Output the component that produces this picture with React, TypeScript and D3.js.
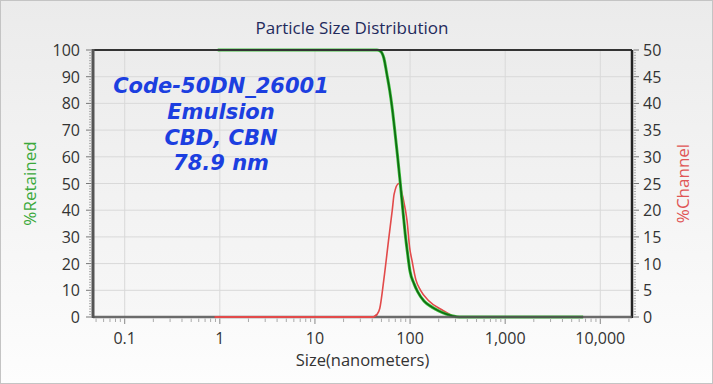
import React from 'react';
import * as d3 from 'd3';

const W = 713;
const H = 384;
const margin = { left: 93, right: 81, top: 50, bottom: 67 };

// %Retained (cumulative), size in nm
const retainedSize = [0.95, 45, 49, 53, 57, 61, 65, 69, 74, 79, 84, 89, 94, 100, 110, 120, 140, 170, 200, 240, 280, 330, 6600];
const retainedPct = [100, 100, 99.5, 97, 91, 85, 78, 70, 60, 50, 40, 31, 24, 17, 12.5, 9.5, 6, 3.7, 2.3, 1.1, 0.4, 0, 0];

// %Channel, size in nm
const channelSize = [0.88, 41, 45, 48, 53, 60, 65, 68, 76, 85, 93, 99, 105, 115, 129, 156, 218, 277, 340, 6600];
const channelPct = [0, 0, 0.5, 1.6, 7, 15, 20, 23, 25, 22, 18, 13, 10.5, 7, 5, 3.1, 1.3, 0.3, 0, 0];

const xTicks = [0.1, 1, 10, 100, 1000, 10000];
const xTickLabels = ['0.1', '1', '10', '100', '1,000', '10,000'];
const leftTicks = [0, 10, 20, 30, 40, 50, 60, 70, 80, 90, 100];
const rightTicks = [0, 5, 10, 15, 20, 25, 30, 35, 40, 45, 50];
const noteLines = ['Code-50DN_26001', 'Emulsion', 'CBD, CBN', '78.9 nm'];

const font = '"Open Sans", "DejaVu Sans", sans-serif';
const noteFont = '"DejaVu Sans", sans-serif';

export default function App() {
  const x0 = margin.left;
  const x1 = W - margin.right;
  const y0 = H - margin.bottom;
  const y1 = margin.top;

  const x = d3.scaleLog().domain([Math.pow(10, -4 / 3), Math.pow(10, 13 / 3)]).range([x0, x1]);
  const yL = d3.scaleLinear().domain([0, 100]).range([y0, y1]);
  const yR = d3.scaleLinear().domain([0, 50]).range([y0, y1]);

  const retainedLine = d3.line<number>()
    .x((d, i) => x(retainedSize[i]))
    .y((d) => yL(d))
    .curve(d3.curveMonotoneX);
  const channelLine = d3.line<number>()
    .x((d, i) => x(channelSize[i]))
    .y((d) => yR(d))
    .curve(d3.curveMonotoneX);

  const minorX: number[] = [];
  for (let e = -2; e <= 4; e++) {
    for (let m = 2; m <= 9; m++) {
      const v = m * Math.pow(10, e);
      if (v > x.domain()[0] && v < x.domain()[1]) minorX.push(v);
    }
  }
  const minorL = d3.range(0, 101, 1);
  const minorR = d3.range(0, 50.01, 0.5);

  return (
    <svg width={W} height={H} style={{ position: 'absolute', left: 0, top: 0, display: 'block' }}>
      <defs>
        <linearGradient id="bg" x1="0" y1="0" x2="0" y2="1">
          <stop offset="0" stopColor="#ebebeb" />
          <stop offset="1" stopColor="#fdfdfd" />
        </linearGradient>
        <linearGradient id="plotbg" x1="0" y1="0" x2="0" y2="1">
          <stop offset="0" stopColor="#ececec" />
          <stop offset="1" stopColor="#f7f7f7" />
        </linearGradient>
      </defs>
      <rect x={0.5} y={0.5} width={W - 1} height={H - 1} fill="url(#bg)" stroke="#c4c4c4" />
      <rect x={x0} y={y1} width={x1 - x0} height={y0 - y1} fill="url(#plotbg)" />

      {/* grid */}
      {leftTicks.map((t) => (
        <line key={'gh' + t} x1={x0} x2={x1} y1={yL(t)} y2={yL(t)} stroke="#d9d9d9" strokeWidth={1} />
      ))}
      {xTicks.map((t) => (
        <line key={'gv' + t} x1={x(t)} x2={x(t)} y1={y1} y2={y0} stroke="#d9d9d9" strokeWidth={1} />
      ))}

      <text x={352} y={34} textAnchor="middle" fontFamily={font} fontSize={17} fill="#1f2a5c">
        Particle Size Distribution
      </text>

      {/* annotation */}
      {noteLines.map((s, i) => (
        <text key={s} x={221} y={93 + i * 25.8} textAnchor="middle" fontFamily={noteFont} fontSize={21}
              fontWeight="bold" fontStyle="italic" fill="#1c3fe0">
          {s}
        </text>
      ))}

      {/* series */}
      <path d={channelLine(channelPct) || ''} fill="none" stroke="#e24a4a" strokeWidth={1.6} strokeLinejoin="round" />
      <path d={retainedLine(retainedPct) || ''} fill="none" stroke="#3cbf3c" strokeWidth={3} strokeLinejoin="round" />
      <path d={retainedLine(retainedPct) || ''} fill="none" stroke="#0f6a12" strokeWidth={1.6} strokeLinejoin="round" />

      {/* frame */}
      <line x1={x0} x2={x1} y1={y1} y2={y1} stroke="#333" strokeWidth={2} />
      <line x1={x1} x2={x1} y1={y1} y2={y0 + 1} stroke="#222" strokeWidth={2.5} />
      <line x1={x0} x2={x0} y1={y1 - 1} y2={y0 + 1} stroke="#555" strokeWidth={3} />
      <line x1={x0} x2={x1} y1={y0} y2={y0} stroke="#555" strokeWidth={2.5} opacity={0.85} />
      <path d={channelLine(channelPct.slice(0, 3)) || ''} fill="none" stroke="#e24a4a" strokeWidth={2} />

      {/* left axis ticks */}
      {minorL.map((t) => (
        <line key={'ml' + t} x1={x0 - 1.5} x2={x0 - (t % 10 === 0 ? 7 : 4)} y1={yL(t)} y2={yL(t)}
              stroke={t % 10 === 0 ? '#777' : '#aaa'} strokeWidth={1} />
      ))}
      {leftTicks.map((t) => (
        <text key={'lt' + t} x={80} y={yL(t) + 6} textAnchor="end" fontFamily={font} fontSize={16} fill="#333">
          {t}
        </text>
      ))}

      {/* right axis ticks */}
      {minorR.map((t) => (
        <line key={'mr' + t} x1={x1 + 1.5} x2={x1 + (t % 5 === 0 ? 7 : 4)} y1={yR(t)} y2={yR(t)}
              stroke={t % 5 === 0 ? '#777' : '#aaa'} strokeWidth={1} />
      ))}
      {rightTicks.map((t) => (
        <text key={'rt' + t} x={643} y={yR(t) + 6} textAnchor="start" fontFamily={font} fontSize={16} fill="#333">
          {t}
        </text>
      ))}

      {/* bottom axis ticks */}
      {minorX.map((t) => (
        <line key={'mx' + t} x1={x(t)} x2={x(t)} y1={y0 + 1.5} y2={y0 + 5} stroke="#aaa" strokeWidth={1} />
      ))}
      {xTicks.map((t, i) => (
        <g key={'xt' + t}>
          <line x1={x(t)} x2={x(t)} y1={y0 + 1.5} y2={y0 + 7} stroke="#888" strokeWidth={1} />
          <text x={x(t)} y={y0 + 27} textAnchor="middle" fontFamily={font} fontSize={16} fill="#333">
            {xTickLabels[i]}
          </text>
        </g>
      ))}

      <text x={(x0 + x1) / 2} y={366} textAnchor="middle" fontFamily={font} fontSize={16.5} fill="#333">
        Size(nanometers)
      </text>
      <text transform={`translate(36,${(y0 + y1) / 2}) rotate(-90)`} textAnchor="middle" fontFamily={font}
            fontSize={17} fill="#3aa83a">
        %Retained
      </text>
      <text transform={`translate(689,${(y0 + y1) / 2}) rotate(-90)`} textAnchor="middle" fontFamily={font}
            fontSize={17} fill="#e05555">
        %Channel
      </text>
    </svg>
  );
}
